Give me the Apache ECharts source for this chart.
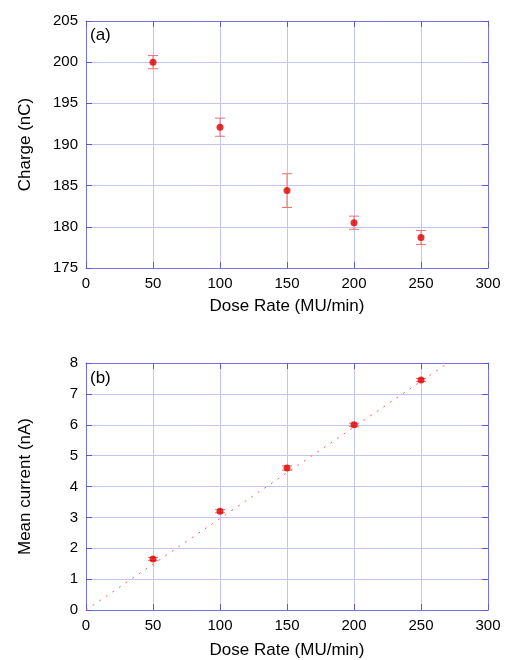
<!DOCTYPE html>
<html><head><meta charset="utf-8">
<script src="https://cdn.jsdelivr.net/npm/echarts@6/dist/echarts.min.js"></script>
<style>html,body{margin:0;padding:0;background:#fff}#c{width:505px;height:660px}</style>
</head><body><div id="c"></div>
<script>
const doseRate = [50, 100, 150, 200, 250];
const charge = [200.0, 192.1, 184.4, 180.5, 178.7];
const chargeErr = [0.8, 1.1, 2.05, 0.8, 0.85];
const current = [1.65, 3.2, 4.6, 6.0, 7.45];
const currentErr = [0.05, 0.05, 0.07, 0.05, 0.05];
const fitX = [0, 270];
const fitY = [0, 8.0];
const xTicks = [0, 50, 100, 150, 200, 250, 300];

const FONT = 'Liberation Sans';
const gridCol = '#c4c4f2';
const frameCol = '#7474e2';
const tickCol = '#5a5ad8';

function errSeries(xi, yi, vals, errs) {
  return {
    type: 'custom', xAxisIndex: xi, yAxisIndex: yi, z: 3,
    data: vals.map((v, i) => [doseRate[i], v, errs[i]]),
    renderItem: function (params, api) {
      const x = api.value(0), y = api.value(1), e = api.value(2);
      const top = api.coord([x, y + e]);
      const bot = api.coord([x, y - e]);
      const hw = 5;
      const st = { stroke: '#f07070', lineWidth: 1 };
      return { type: 'group', children: [
        { type: 'line', shape: { x1: top[0], y1: top[1], x2: bot[0], y2: bot[1] }, style: st },
        { type: 'line', shape: { x1: top[0] - hw, y1: top[1], x2: top[0] + hw, y2: top[1] }, style: st },
        { type: 'line', shape: { x1: bot[0] - hw, y1: bot[1], x2: bot[0] + hw, y2: bot[1] }, style: st }
      ]};
    }
  };
}

function xAxisMain(gi, name, nameGap) {
  return {
    type: 'value', gridIndex: gi, min: 0, max: 300, interval: 50,
    name: name, nameLocation: 'middle', nameGap: nameGap,
    nameTextStyle: { fontFamily: FONT, fontSize: 17, color: '#000' },
    axisLine: { show: true, onZero: false, lineStyle: { color: frameCol } },
    axisTick: { show: true, inside: true, length: 6, lineStyle: { color: tickCol } },
    axisLabel: { fontFamily: FONT, fontSize: 15, color: '#000', margin: 8 },
    splitLine: { show: true, lineStyle: { color: gridCol } }
  };
}
function xAxisMirror(gi) {
  return {
    type: 'value', gridIndex: gi, min: 0, max: 300, interval: 50, position: 'top',
    axisLine: { show: true, onZero: false, lineStyle: { color: frameCol } },
    axisTick: { show: true, inside: true, length: 6, lineStyle: { color: tickCol } },
    axisLabel: { show: false }, splitLine: { show: false }
  };
}
function yAxisMain(gi, min, max, interval, name) {
  return {
    type: 'value', gridIndex: gi, min: min, max: max, interval: interval,
    name: name, nameLocation: 'middle', nameGap: 52,
    nameTextStyle: { fontFamily: FONT, fontSize: 17, color: '#000' },
    axisLine: { show: true, onZero: false, lineStyle: { color: frameCol } },
    axisTick: { show: true, inside: true, length: 6, lineStyle: { color: tickCol } },
    axisLabel: { fontFamily: FONT, fontSize: 15, color: '#000', margin: 8 },
    splitLine: { show: true, lineStyle: { color: gridCol } }
  };
}
function yAxisMirror(gi, min, max, interval) {
  return {
    type: 'value', gridIndex: gi, min: min, max: max, interval: interval, position: 'right',
    axisLine: { show: true, onZero: false, lineStyle: { color: frameCol } },
    axisTick: { show: true, inside: true, length: 6, lineStyle: { color: tickCol } },
    axisLabel: { show: false }, splitLine: { show: false }
  };
}

const chart = echarts.init(document.getElementById('c'), null, { renderer: 'canvas' });
chart.setOption({
  backgroundColor: '#fff',
  animation: false,
  grid: [
    { left: 86, right: 17, top: 21, height: 247 },
    { left: 86, right: 17, top: 363, height: 247 }
  ],
  graphic: [
    { type: 'text', left: 90, top: 27, style: { text: '(a)', font: '17px "Liberation Sans"', fill: '#000' } },
    { type: 'text', left: 90, top: 370, style: { text: '(b)', font: '17px "Liberation Sans"', fill: '#000' } }
  ],
  xAxis: [
    xAxisMain(0, 'Dose Rate (MU/min)', 30), xAxisMirror(0),
    xAxisMain(1, 'Dose Rate (MU/min)', 32), xAxisMirror(1)
  ],
  yAxis: [
    yAxisMain(0, 175, 205, 5, 'Charge (nC)'), yAxisMirror(0, 175, 205, 5),
    yAxisMain(1, 0, 8, 1, 'Mean current (nA)'), yAxisMirror(1, 0, 8, 1)
  ],
  series: [
    errSeries(0, 0, charge, chargeErr),
    { type: 'scatter', xAxisIndex: 0, yAxisIndex: 0, z: 4, symbol: 'circle', symbolSize: 7,
      itemStyle: { color: '#e00000' }, data: doseRate.map((x, i) => [x, charge[i]]) },
    { type: 'line', xAxisIndex: 2, yAxisIndex: 2, z: 2, symbol: 'none', silent: true,
      lineStyle: { color: '#f06060', width: 1, type: [2, 6] },
      data: fitX.map((x, i) => [x, fitY[i]]) },
    errSeries(2, 2, current, currentErr),
    { type: 'scatter', xAxisIndex: 2, yAxisIndex: 2, z: 4, symbol: 'circle', symbolSize: 7,
      itemStyle: { color: '#e00000' }, data: doseRate.map((x, i) => [x, current[i]]) }
  ]
});
</script></body></html>
